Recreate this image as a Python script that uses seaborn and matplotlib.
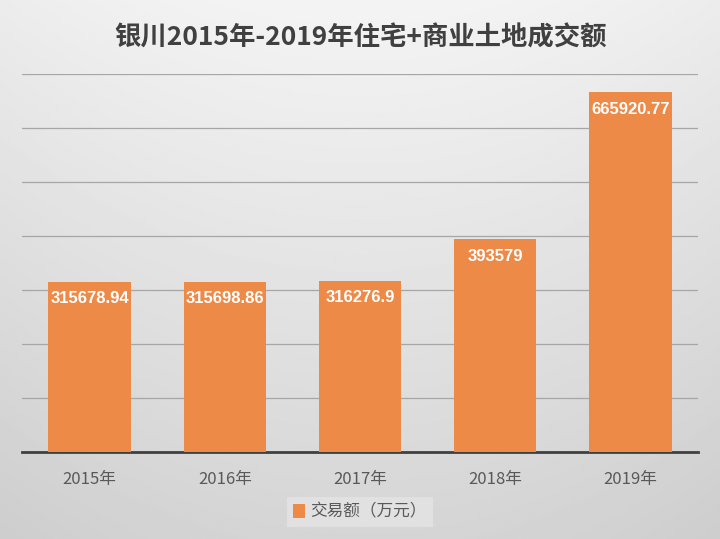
import matplotlib.pyplot as plt
import numpy as np
import pandas as pd
import seaborn as sns
from matplotlib.patches import Patch

years = ["2015年", "2016年", "2017年", "2018年", "2019年"]
amounts = [315678.94, 315698.86, 316276.9, 393579, 665920.77]
value_labels = ["315678.94", "315698.86", "316276.9", "393579", "665920.77"]

TITLE = "银川2015年-2019年住宅+商业土地成交额"
LEGEND_LABEL = "交易额（万元）"
BAR_COLOR = "#EE8A48"

sns.set_theme(style="white")
plt.rcParams["font.family"] = ["Noto Sans CJK SC", "DejaVu Sans"]

df = pd.DataFrame({"year": years, "amount": amounts})

fig = plt.figure(figsize=(7.2, 5.39), dpi=100)

# light grey gradient background
bg = fig.add_axes([0, 0, 1, 1], zorder=-10)
yy = np.linspace(0, 1, 256)[:, None]
xx = np.linspace(-1, 1, 256)[None, :]
shade = 0.955 - 0.12 * yy - 0.03 * xx ** 2
bg.imshow(shade, cmap="gray", vmin=0, vmax=1, aspect="auto", extent=[0, 1, 0, 1])
bg.axis("off")

ax = fig.add_axes([22 / 720, 1 - 452 / 539, 676 / 720, 378 / 539])
ax.patch.set_alpha(0)

sns.barplot(data=df, x="year", y="amount", color=BAR_COLOR, saturation=1,
            width=0.61, linewidth=0, edgecolor="none", ax=ax, zorder=3)

ax.set_ylim(0, 700000)
ax.set_yticks(np.arange(0, 700001, 100000))
ax.yaxis.grid(True, color="#a6a6a6", linewidth=0.9)
ax.set_axisbelow(True)
ax.tick_params(axis="y", left=False, labelleft=False)
ax.tick_params(axis="x", bottom=False, labelsize=12, colors="#595959", pad=8)
ax.set_xlabel("")
ax.set_ylabel("")
for side in ["left", "right", "top"]:
    ax.spines[side].set_visible(False)
ax.spines["bottom"].set_color("#404040")
ax.spines["bottom"].set_linewidth(2)

for bar, text in zip(ax.patches, value_labels):
    ax.annotate(text, (bar.get_x() + bar.get_width() / 2, bar.get_height()),
                xytext=(0, -12), textcoords="offset points", ha="center", va="center",
                color="white", fontsize=12, fontweight="bold",
                family=["Liberation Sans", "DejaVu Sans"], zorder=5)

fig.text(0.5, 1 - 38 / 539, TITLE, ha="center", va="center",
         fontsize=19, fontweight="bold", color="#404040")

handles = [Patch(facecolor=BAR_COLOR, edgecolor="none")]
fig.legend(handles, [LEGEND_LABEL], loc="center", bbox_to_anchor=(0.5, 1 - 512 / 539),
           frameon=True, facecolor="#e4e4e4", edgecolor="none", fancybox=False,
           fontsize=12, handlelength=0.7, handleheight=0.9, handletextpad=0.3,
           labelcolor="#595959")

fig.savefig("out.png", dpi=100)
